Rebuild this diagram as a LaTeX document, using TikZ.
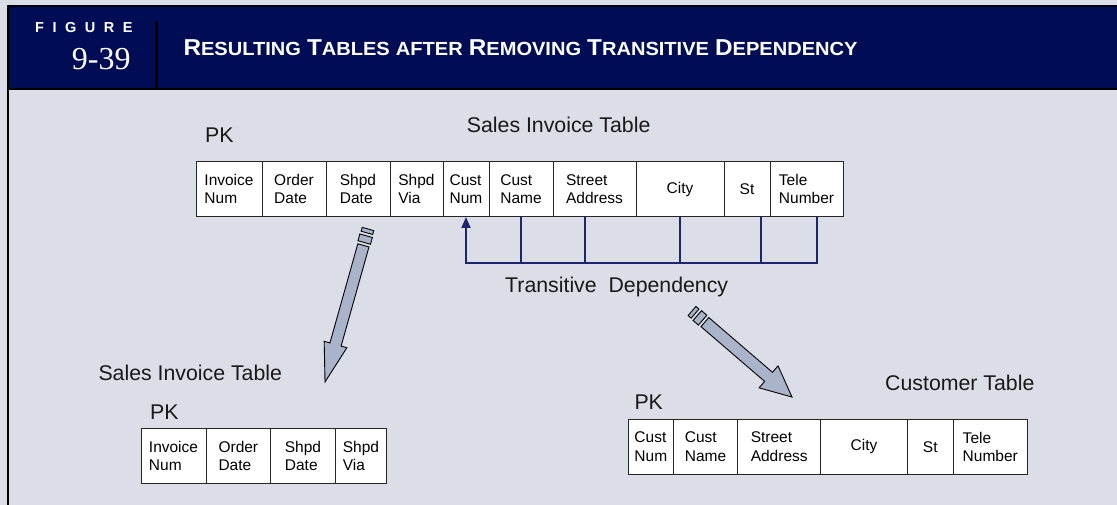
\documentclass[tikz,border=0pt]{standalone}
\usepackage{fontspec}
\usepackage{graphicx}
\setmainfont{Liberation Sans}
\newfontfamily\numfont{Liberation Serif}
\usetikzlibrary{arrows.meta,calc}
\definecolor{bgc}{RGB}{220,222,231}
\definecolor{navy}{RGB}{0,13,84}
\definecolor{connc}{RGB}{28,38,108}
\definecolor{afill}{RGB}{169,179,201}
\newcommand\tcell[6]{\node[tcellbox, minimum width={(#3-#2)*1pt}, minimum height={(#5-#4)*1pt}] (#1) at ({(#2+#3)/2},{(#4+#5)/2}) {#6};}
\newcommand\sct[2]{{\fontsize{23}{23}\selectfont #1}{\fontsize{19}{19}\selectfont #2}}
\begin{document}
\begin{tikzpicture}[x=1pt,y=-1pt,
  tcellbox/.style={draw=black!85, line width=1pt, fill=white, inner sep=0pt, align=left, font=\fontsize{15.5}{18.3}\selectfont},
  lbl/.style={anchor=base west, inner sep=0pt, font=\fontsize{21.3}{24}\selectfont, text=black!90},
  conline/.style={draw=connc, line width=1.9pt},
  blockarrow/.style={draw=black, line width=0.9pt, fill=afill, line join=miter}]
\useasboundingbox (0,0) rectangle (1117,505);
\fill[bgc] (0,0) rectangle (1117,505);
% header
\fill[navy] (7.5,6.5) rectangle (1117,89.3);
\draw[line width=2pt] (7.5,505) -- (7.5,6.5) -- (1117,6.5);
\draw[line width=2pt] (7.5,89.3) -- (1117,89.3);
\draw[line width=2.5pt] (156.5,21) -- (156.5,89.3);
\node[anchor=base west, inner sep=0pt, text=white, font=\bfseries\fontsize{14.5}{14.5}\selectfont] (figlbl) at (35,32.3) {F\kern8.5pt I\kern8.5pt G\kern8.5pt U\kern8.5pt R\kern8.5pt E};
\node[anchor=base east, inner sep=0pt, text=white, font=\numfont\fontsize{32}{32}\selectfont] (fignum) at (130.7,70) {9-39};
\node[anchor=base west, inner sep=0pt, text=white, font=\bfseries] (title) at (183.3,56) {\resizebox{674pt}{\height}{\sct{R}{ESULTING}\hspace{3pt} \sct{T}{ABLES}\hspace{3pt} {\fontsize{19}{19}\selectfont AFTER}\hspace{3pt} \sct{R}{EMOVING}\hspace{3pt} \sct{T}{RANSITIVE}\hspace{3pt} \sct{D}{EPENDENCY}}};
% top table
\node[lbl] (pk1) at (205,142.3) {PK};
\node[lbl] (sit1) at (466.7,132.7) {Sales Invoice Table};
\tcell{inv}{196}{262}{162}{216.5}{Invoice\\Num}
\tcell{ord}{262}{326}{162}{216.5}{Order\\Date}
\tcell{shd}{326}{390}{162}{216.5}{Shpd\\Date}
\tcell{shv}{390}{443}{162}{216.5}{Shpd\\Via}
\tcell{cnum}{443}{489}{162}{216.5}{Cust\\Num}
\tcell{cname}{489}{553}{162}{216.5}{Cust\\Name}
\tcell{street}{553}{636}{162}{216.5}{Street\\Address}
\tcell{city}{636}{724}{162}{216.5}{City}
\tcell{st}{724}{770}{162}{216.5}{St}
\tcell{tele}{770}{843}{162}{216.5}{Tele\\Number}
% transitive dependency connector
\coordinate (bar) at (0,263);
\draw[conline] (cname.south) -- (cname.south |- bar);
\draw[conline] ([xshift=-9.5pt]street.south) -- ([xshift=-9.5pt]street.south |- bar);
\draw[conline] (city.south) -- (city.south |- bar);
\draw[conline] ([xshift=14pt]st.south) -- ([xshift=14pt]st.south |- bar);
\draw[conline, -{Triangle[length=11pt,width=9pt]}] ([xshift=10.5pt]tele.south) |- (bar -| cnum.south) -- (cnum.south);
\node[lbl] (td) at (505,292) {Transitive\ \ Dependency};
% block arrows
\begin{scope}[shift={(368,229)}, rotate=-105.7]
  \draw[blockarrow] (0,-6) rectangle (4,6);
  \draw[blockarrow] (7,-6.5) rectangle (14,6.5);
  \draw[blockarrow] (17,-5.8) -- (120,-5.8) -- (120,-11.8) -- (158.9,0) -- (120,11.8) -- (120,5.8) -- (17,5.8) -- cycle;
\end{scope}
\begin{scope}[shift={(692,311)}, rotate=-40.7]
  \draw[blockarrow] (0,-6) rectangle (4,6);
  \draw[blockarrow] (7,-6.5) rectangle (14,6.5);
  \draw[blockarrow] (17,-6) -- (101,-6) -- (101,-14.5) -- (131.9,0) -- (101,14.5) -- (101,6) -- (17,6) -- cycle;
\end{scope}
% bottom-left table
\node[lbl] (sit2) at (98.3,380.7) {Sales Invoice Table};
\node[lbl] (pk2) at (150,419) {PK};
\tcell{binv}{141}{206}{428.3}{483.3}{Invoice\\Num}
\tcell{bord}{206}{270.7}{428.3}{483.3}{Order\\Date}
\tcell{bshd}{270.7}{335.3}{428.3}{483.3}{Shpd\\Date}
\tcell{bshv}{335.3}{386.7}{428.3}{483.3}{Shpd\\Via}
% customer table
\node[lbl] (ct) at (885,390.7) {Customer Table};
\node[lbl] (pk3) at (634.3,409.3) {PK};
\tcell{ccnum}{628.3}{673.3}{419.3}{474.3}{Cust\\Num}
\tcell{ccname}{673.3}{737.7}{419.3}{474.3}{Cust\\Name}
\tcell{cstreet}{737.7}{820.7}{419.3}{474.3}{Street\\Address}
\tcell{ccity}{820.7}{907.3}{419.3}{474.3}{City}
\tcell{cst}{907.3}{953.3}{419.3}{474.3}{St}
\tcell{ctele}{953.3}{1027.3}{419.3}{474.3}{Tele\\Number}
\end{tikzpicture}
\end{document}
